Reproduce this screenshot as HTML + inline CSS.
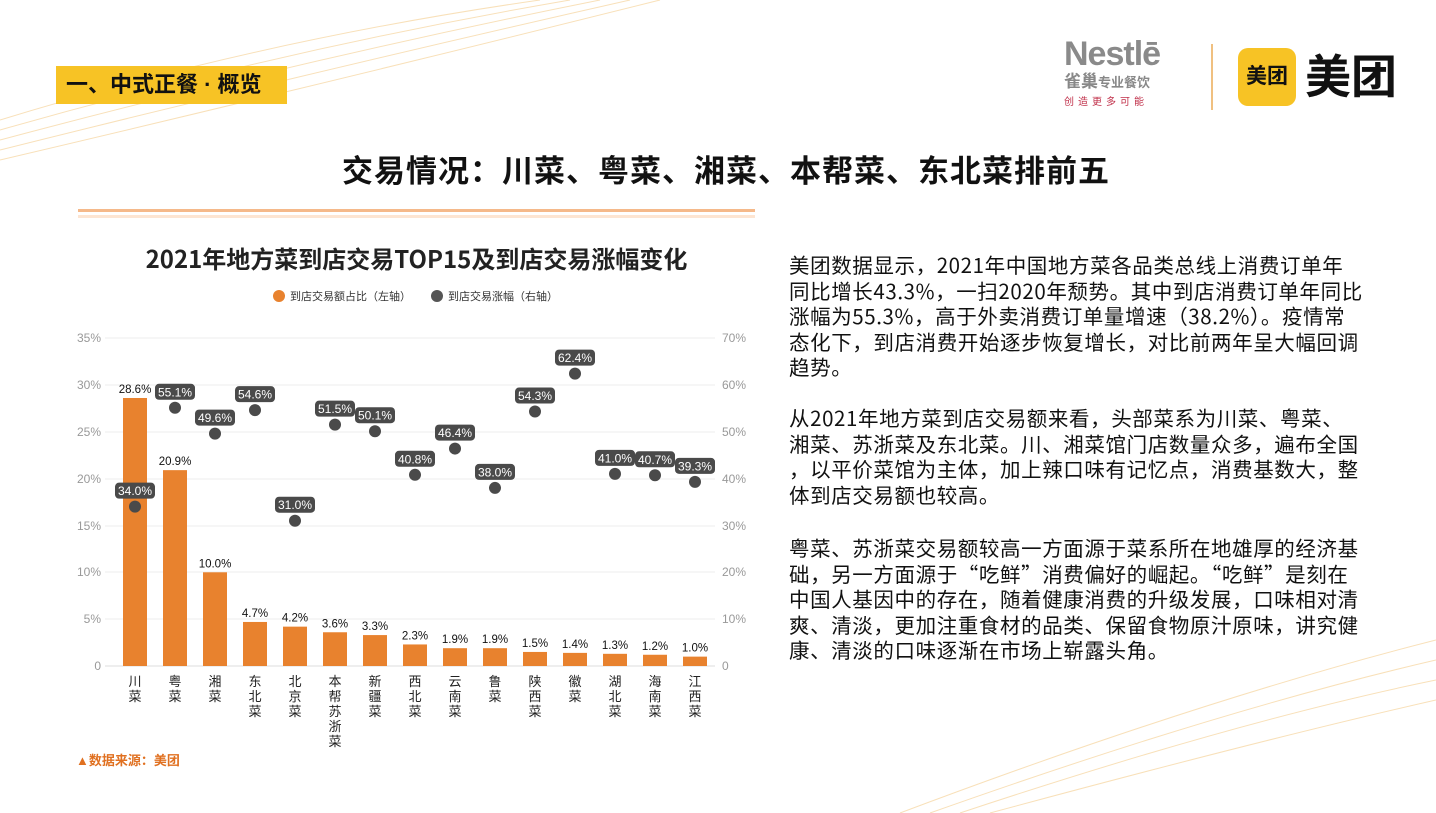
<!DOCTYPE html>
<html><head><meta charset="utf-8"><style>
*{margin:0;padding:0;box-sizing:border-box}
body{width:1436px;height:813px;background:#fff;position:relative;overflow:hidden;font-family:"Liberation Sans","Noto Sans CJK SC",sans-serif}
.abs{position:absolute}
.tag{left:56px;top:66px;width:231px;height:38px;background:#f7c325;font-size:22px;font-weight:bold;color:#111;line-height:38px;padding-left:10px}
.title{left:0;width:1436px;top:146px;text-align:center;font-size:31px;font-weight:bold;color:#111;letter-spacing:1px;padding-left:16px}
.para{left:789px;font-size:20.5px;line-height:25.5px;color:#111;font-family:"Noto Sans CJK SC","Liberation Sans",sans-serif;letter-spacing:0.6px;white-space:nowrap}
</style></head><body>
<svg class="abs" style="left:0;top:0" width="1436" height="813">
<g fill="none" stroke="#f7d9a8" stroke-width="1" opacity="0.8">
<path d="M0 140 Q300 60 600 0"/><path d="M0 150 Q320 70 630 0"/><path d="M0 160 Q340 80 660 0"/><path d="M0 130 Q280 50 570 0"/><path d="M0 120 Q260 40 540 0"/>
<path d="M900 813 Q1200 700 1436 640"/><path d="M930 813 Q1220 710 1436 660"/><path d="M960 813 Q1240 720 1436 680"/><path d="M990 813 Q1260 740 1436 700"/>
</g>
<rect x="78" y="209" width="677" height="3" fill="#f5b98a"/>
<rect x="78" y="215" width="677" height="3" fill="#fde5d2"/>
</svg>
<div class="abs tag">一、中式正餐 · 概览</div>
<div class="abs" style="left:1064px;top:36px;width:125px">
<div style="font-size:34px;font-weight:bold;color:#8a8a8a;letter-spacing:-1px;line-height:36px">Nestlē</div>
<div style="font-size:17px;font-weight:bold;color:#888;line-height:20px">雀巢<span style="font-size:13px">专业餐饮</span></div>
<div style="font-size:10px;color:#c0304a;letter-spacing:4px">创造更多可能</div></div>
<div class="abs" style="left:1211px;top:44px;width:2px;height:66px;background:#f0c080"></div>
<div class="abs" style="left:1238px;top:48px;width:58px;height:58px;background:#f7c325;border-radius:10px;font-size:21px;font-weight:bold;line-height:58px;text-align:center;color:#111">美团</div>
<div class="abs" style="left:1305px;top:48px;font-size:46px;font-weight:bold;color:#111;line-height:58px">美团</div>
<div class="abs title">交易情况：川菜、粤菜、湘菜、本帮菜、东北菜排前五</div>
<div class="abs" style="left:78px;top:240px;width:677px;text-align:center;font-size:24px;font-weight:bold;color:#222;font-family:'Noto Sans CJK SC','Liberation Sans',sans-serif">2021年地方菜到店交易TOP15及到店交易涨幅变化</div>
<svg class="abs" style="left:0;top:0" width="1436" height="813" font-family="Liberation Sans, Noto Sans CJK SC, sans-serif">
<circle cx="279" cy="296" r="6" fill="#e8822e"/><text x="290" y="300" font-size="11" fill="#333">到店交易额占比（左轴）</text>
<circle cx="437" cy="296" r="6" fill="#555"/><text x="448" y="300" font-size="11" fill="#333">到店交易涨幅（右轴）</text>
<g stroke="#eee" stroke-width="1">
<line x1="105" x2="715" y1="338" y2="338"/><line x1="105" x2="715" y1="385" y2="385"/><line x1="105" x2="715" y1="432" y2="432"/><line x1="105" x2="715" y1="479" y2="479"/><line x1="105" x2="715" y1="526" y2="526"/><line x1="105" x2="715" y1="572" y2="572"/><line x1="105" x2="715" y1="619" y2="619"/><line x1="105" x2="715" y1="666" y2="666" stroke="#ddd"/>
</g>
<g font-size="12" fill="#999" text-anchor="end">
<text x="101" y="342">35%</text><text x="101" y="389">30%</text><text x="101" y="436">25%</text><text x="101" y="483">20%</text><text x="101" y="530">15%</text><text x="101" y="576">10%</text><text x="101" y="623">5%</text><text x="101" y="670">0</text>
</g>
<g font-size="12" fill="#999">
<text x="722" y="342">70%</text><text x="722" y="389">60%</text><text x="722" y="436">50%</text><text x="722" y="483">40%</text><text x="722" y="530">30%</text><text x="722" y="576">20%</text><text x="722" y="623">10%</text><text x="722" y="670">0</text>
</g>
<g id="bars"></g>
</svg>
<script>
var cats=[["川","菜"],["粤","菜"],["湘","菜"],["东","北","菜"],["北","京","菜"],["本","帮","苏","浙","菜"],["新","疆","菜"],["西","北","菜"],["云","南","菜"],["鲁","菜"],["陕","西","菜"],["徽","菜"],["湖","北","菜"],["海","南","菜"],["江","西","菜"]];
var b=[28.6,20.9,10.0,4.7,4.2,3.6,3.3,2.3,1.9,1.9,1.5,1.4,1.3,1.2,1.0];
var d=[34.0,55.1,49.6,54.6,31.0,51.5,50.1,40.8,46.4,38.0,54.3,62.4,41.0,40.7,39.3];
var s='';
for(var i=0;i<15;i++){var x=135+i*40,h=b[i]*9.371,y=666-h;
s+='<rect x="'+(x-12)+'" y="'+y+'" width="24" height="'+h+'" fill="#e8822e"/>';
s+='<text x="'+x+'" y="'+(y-5)+'" font-size="11.5" text-anchor="middle" fill="#111">'+b[i].toFixed(1)+'%</text>';
for(var j=0;j<cats[i].length;j++)s+='<text x="'+x+'" y="'+(686+j*15)+'" font-size="13" text-anchor="middle" fill="#222">'+cats[i][j]+'</text>';}
for(var i=0;i<15;i++){var x=135+i*40,y=666-d[i]*4.686;
s+='<circle cx="'+x+'" cy="'+y+'" r="6" fill="#4a4a4a"/>';
s+='<rect x="'+(x-20)+'" y="'+(y-24)+'" width="40" height="16" rx="4" fill="#4a4a4a"/>';
s+='<text x="'+x+'" y="'+(y-11.5)+'" font-size="12" text-anchor="middle" fill="#fff">'+d[i].toFixed(1)+'%</text>';}
document.getElementById('bars').innerHTML=s;
</script>
<div class="abs" style="left:76px;top:750px;font-size:13px;font-weight:bold;color:#e07020">▲数据来源：美团</div>
<div class="abs para" style="top:252px">美团数据显示，2021年中国地方菜各品类总线上消费订单年<br>同比增长43.3%，一扫2020年颓势。其中到店消费订单年同比<br>涨幅为55.3%，高于外卖消费订单量增速（38.2%）。疫情常<br>态化下，到店消费开始逐步恢复增长，对比前两年呈大幅回调<br>趋势。</div>
<div class="abs para" style="top:405px">从2021年地方菜到店交易额来看，头部菜系为川菜、粤菜、<br>湘菜、苏浙菜及东北菜。川、湘菜馆门店数量众多，遍布全国<br>，以平价菜馆为主体，加上辣口味有记忆点，消费基数大，整<br>体到店交易额也较高。</div>
<div class="abs para" style="top:535px">粤菜、苏浙菜交易额较高一方面源于菜系所在地雄厚的经济基<br>础，另一方面源于“吃鲜”消费偏好的崛起。“吃鲜”是刻在<br>中国人基因中的存在，随着健康消费的升级发展，口味相对清<br>爽、清淡，更加注重食材的品类、保留食物原汁原味，讲究健<br>康、清淡的口味逐渐在市场上崭露头角。</div>
</body></html>
